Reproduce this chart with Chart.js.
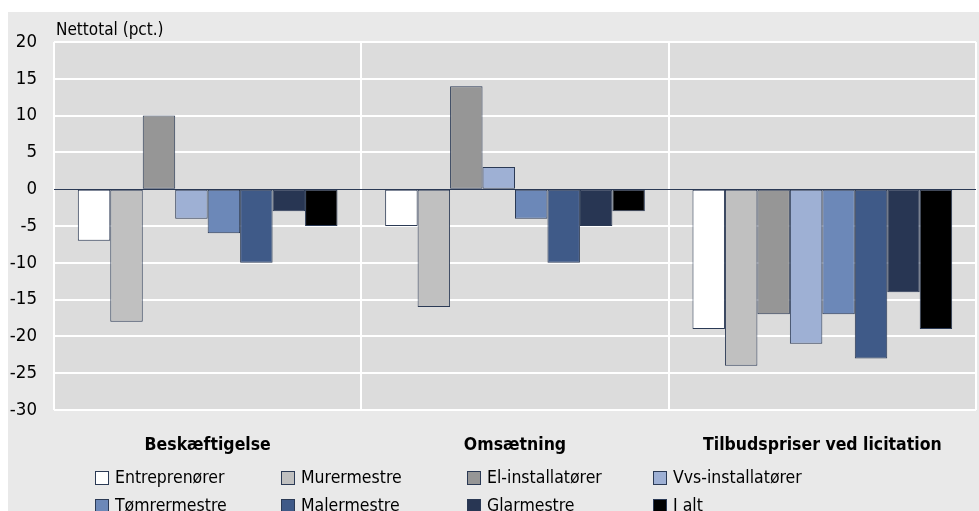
<!DOCTYPE html>
<html>
<head>
<meta charset="utf-8">
<script src="https://cdn.jsdelivr.net/npm/chart.js@4/dist/chart.umd.min.js"></script>
<style>
  body { margin: 0; background: #fff; font-family: "Liberation Sans Narrow", "DejaVu Sans Condensed", sans-serif; }
  #panel { position: absolute; left: 8px; top: 12px; width: 971px; height: 499px; background: #e9e9e9; overflow: hidden; }
  #wrap { position: absolute; left: 0; top: 0; width: 971px; height: 460px; }
  #unit { position: absolute; left: 48px; top: 7px; font-size: 17px; color: #000; }
  .item { position: absolute; font-size: 17.5px; color: #000; line-height: 22px; white-space: nowrap; }
  .item span.box { position: absolute; left: 0; top: 4px; width: 12px; height: 12px; border: 1px solid #2b3a55; }
  .item span.txt { position: absolute; left: 20px; top: -1px; }
</style>
</head>
<body>
<div id="panel">
  <div id="wrap"><canvas id="chart"></canvas></div>
  <div id="unit">Nettotal (pct.)</div>
  <div id="legend"></div>
</div>
<script>
// categories and series
var categories = ['Beskæftigelse', 'Omsætning', 'Tilbudspriser ved licitation'];
var seriesNames = ['Entreprenører', 'Murermestre', 'El-installatører', 'Vvs-installatører',
                   'Tømrermestre', 'Malermestre', 'Glarmestre', 'I alt'];
var seriesColors = ['#ffffff', '#c0c0c0', '#969696', '#9eb0d4', '#6c88b8', '#3f5a88', '#283653', '#000000'];

var entreprenorer = [-7, -5, -19];
var murermestre = [-18, -16, -24];
var elInstallatorer = [10, 14, -17];
var vvsInstallatorer = [-4, 3, -21];
var tomrermestre = [-6, -4, -17];
var malermestre = [-10, -10, -23];
var glarmestre = [-3, -5, -14];
var iAlt = [-5, -3, -19];

var yTicks = { min: -30, max: 20, step: 5 };

var seriesValues = [entreprenorer, murermestre, elInstallatorer, vvsInstallatorer,
                    tomrermestre, malermestre, glarmestre, iAlt];

var datasets = seriesNames.map(function(name, i) {
    return {
        label: name,
        data: seriesValues[i],
        backgroundColor: seriesColors[i],
        borderColor: '#2b3a55',
        borderWidth: 1,
        borderSkipped: false,
        barPercentage: 1,
        categoryPercentage: 0.845
    };
});

// plot background
var plotBg = {
    id: 'plotBg',
    beforeDraw: function(chart) {
        var a = chart.chartArea, c = chart.ctx;
        c.save();
        c.fillStyle = '#dcdcdc';
        c.fillRect(a.left, a.top, a.right - a.left, a.bottom - a.top);
        c.restore();
    }
};

var font = "'Liberation Sans Narrow', 'DejaVu Sans Condensed', sans-serif";

var ctx = document.getElementById('chart').getContext('2d');
var myChart = new Chart(ctx, {
    type: 'bar',
    data: { labels: categories, datasets: datasets },
    plugins: [plotBg],
    options: {
        responsive: true,
        maintainAspectRatio: false,
        animation: false,
        layout: { padding: { top: 30, right: 3, left: 0, bottom: 0 } },
        plugins: { legend: { display: false }, tooltip: { enabled: false } },
        scales: {
            x: {
                grid: { offset: true, color: '#ffffff', lineWidth: 2, drawTicks: false },
                border: { display: false },
                ticks: { color: '#000', padding: 25, font: { family: font, size: 17.5, weight: 'bold' } },
                afterFit: function(s) { s.height = 62; }
            },
            y: {
                min: yTicks.min,
                max: yTicks.max,
                ticks: { stepSize: yTicks.step, color: '#000', padding: 17, font: { family: font, size: 18.5 } },
                grid: {
                    drawTicks: false,
                    color: function(c) { return c.tick && c.tick.value === 0 ? '#2b3a55' : '#ffffff'; },
                    lineWidth: function(c) { return c.tick && c.tick.value === 0 ? 1 : 2; }
                },
                border: { display: false },
                afterFit: function(s) { s.width = 46; }
            }
        }
    }
});

// legend in four columns
var legend = document.getElementById('legend');
var colX = [87, 273, 459, 645];
var rowY = [455, 483];
seriesNames.forEach(function(name, i) {
    var d = document.createElement('div');
    d.className = 'item';
    d.style.left = colX[i % 4] + 'px';
    d.style.top = rowY[Math.floor(i / 4)] + 'px';
    d.innerHTML = '<span class="box" style="background:' + seriesColors[i] + '"></span><span class="txt"></span>';
    d.querySelector('.txt').textContent = name;
    legend.appendChild(d);
});
</script>
</body>
</html>
